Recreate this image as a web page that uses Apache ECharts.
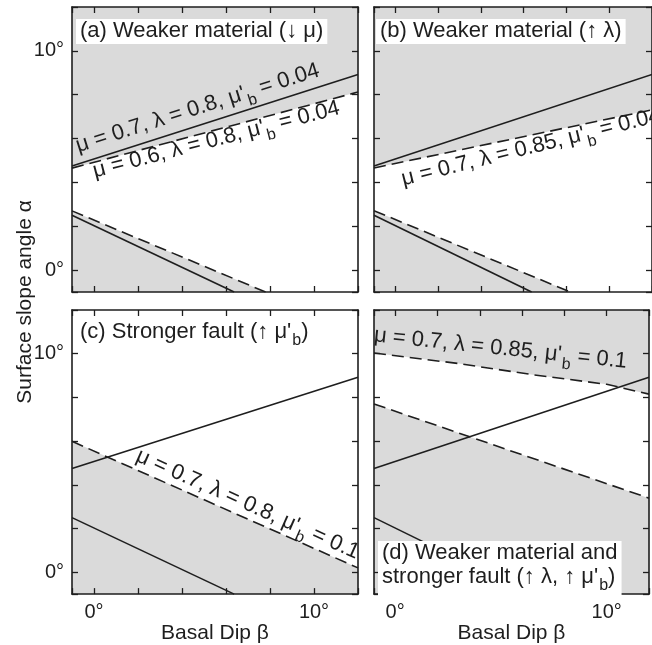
<!DOCTYPE html>
<html>
<head>
<meta charset="utf-8">
<script src="https://cdn.jsdelivr.net/npm/echarts@6/dist/echarts.min.js"></script>
<style>
  html, body { margin: 0; padding: 0; background: #fff; }
  #chart { width: 652px; height: 645px; }
</style>
</head>
<body>
<div id="chart"></div>
<script>
const FONT = '"Liberation Sans", Arial, Helvetica, sans-serif';
const INK = '#1e1e1e';
const SHADE = '#dadada';

// Axis extents (degrees) and the ticks that carry a label
const betaRange = [-1, 12];
const alphaRange = [-1, 12];
const labelledTicks = [0, 10];

// Reference wedge: mu = 0.7, lambda = 0.8, mu'b = 0.04 (solid curves, every panel)
const refUpper = [[-1, 4.75], [12, 8.92]];
const refLower = [[-1, 2.5], [6.37, -1]];

// (a) weaker material, mu = 0.6
const aUpper = [[-1, 4.65], [12, 8.12]];
const aLower = [[-1, 2.7], [7.8, -1]];
// (b) weaker material, lambda = 0.85
const bUpper = [[-1, 4.66], [12, 7.31]];
const bLower = [[-1, 2.71], [8.18, -1]];
// (c) stronger fault, mu'b = 0.1 (upper bound lies above the plotted range)
const cLower = [[-1, 5.99], [12, 0.2]];
// (d) lambda = 0.85 and mu'b = 0.1
const dUpper = [[-1, 10.03], [3, 9.55], [6.5, 9.04], [10, 8.6], [12, 8.15]];
const dLower = [[-1, 7.7], [12, 3.39]];

// Panel captions and curve annotations: [plain, subscript, plain] pieces
const captions = [
  [['(a) Weaker material (↓ μ)']],
  [['(b) Weaker material (↑ λ)']],
  [['(c) Stronger fault (↑ μ\'', 'b', ')']],
  [['(d) Weaker material and'], ['stronger fault (↑ λ, ↑ μ\'', 'b', ')']]
];
const curveNotes = [
  { panel: 0, text: ['μ = 0.7, λ = 0.8, μ\'', 'b', ' = 0.04'] },
  { panel: 0, text: ['μ = 0.6, λ = 0.8, μ\'', 'b', ' = 0.04'] },
  { panel: 1, text: ['μ = 0.7, λ = 0.85, μ\'', 'b', ' = 0.04'] },
  { panel: 2, text: ['μ = 0.7, λ = 0.8, μ\'', 'b', ' = 0.1'] },
  { panel: 3, text: ['μ = 0.7, λ = 0.85, μ\'', 'b', ' = 0.1'] }
];
// where each annotation starts (data units) and its slant (degrees)
const notePlacement = [
  { at: [-0.78, 5.6], angle: 17.5 },
  { at: [-0.02, 4.45], angle: 14.5 },
  { at: [0.31, 4.08], angle: 14 },
  { at: [1.95, 5.32], angle: -24 },
  { at: [-1.0, 10.8], angle: -6 }
];

const panels = [
  { left: 72,  top: 7,   height: 285, upper: aUpper, lower: aLower, xLab: false, yLab: true },
  { left: 374, top: 7,   height: 285, upper: bUpper, lower: bLower, xLab: false, yLab: false },
  { left: 72,  top: 310, height: 286, upper: null,   lower: cLower, xLab: true,  yLab: true },
  { left: 374, top: 310, height: 286, upper: dUpper, lower: dLower, xLab: true,  yLab: false }
];
const captionPlace = [
  { left: 76, top: 19 },
  { left: 376, top: 19 },
  { left: 76, top: 320 },
  { left: 378, top: 541 }
];

const rich = {
  t: { fontSize: 22, lineHeight: 24, verticalAlign: 'top', fontFamily: FONT, color: INK },
  s: { fontSize: 16, lineHeight: 16, verticalAlign: 'top', padding: [12, 0, 0, 1], fontFamily: FONT, color: INK }
};
function richLine(pieces) {
  return pieces.map((p, k) => (k % 2 === 1 ? '{s|' + p + '}' : '{t|' + p + '}')).join('');
}

const grid = panels.map(p => ({ left: p.left, top: p.top, width: 286, height: p.height, show: false }));

function axisCommon(extent, gridIndex, position, withLabels) {
  return {
    type: 'value', gridIndex, position, min: extent[0], max: extent[1],
    minInterval: 2, maxInterval: 2, z: 5,
    axisLine: { show: true, onZero: false, lineStyle: { color: INK, width: 1.6 } },
    axisTick: { show: true, inside: true, length: 6, lineStyle: { color: INK, width: 1.3 } },
    axisLabel: {
      show: withLabels, fontSize: 20, fontFamily: FONT, color: INK, margin: 8,
      formatter: v => (labelledTicks.includes(v) ? v + '°' : '')
    },
    splitLine: { show: false }
  };
}

const xAxis = [], yAxis = [];
panels.forEach((p, i) => {
  const xa = axisCommon(betaRange, i, 'bottom', p.xLab);
  if (p.xLab) {
    xa.name = 'Basal Dip β';
    xa.nameLocation = 'middle';
    xa.nameGap = 21;
    xa.nameTextStyle = { fontSize: 21, fontFamily: FONT, color: INK };
  }
  xAxis.push(xa);
  yAxis.push(axisCommon(alphaRange, i, 'left', p.yLab));
});
panels.forEach((p, i) => {
  xAxis.push(axisCommon(betaRange, i, 'top', false));
  yAxis.push(axisCommon(alphaRange, i, 'right', false));
});

const series = [];
panels.forEach((p, i) => {
  if (p.lower) series.push({
    type: 'line', xAxisIndex: i, yAxisIndex: i, data: p.lower, symbol: 'none', z: 2, silent: true,
    lineStyle: { color: INK, width: 1.6, type: [12, 6] },
    areaStyle: { color: SHADE, opacity: 1, origin: 'start' }
  });
  if (p.upper) series.push({
    type: 'line', xAxisIndex: i, yAxisIndex: i, data: p.upper, symbol: 'none', z: 2, silent: true,
    lineStyle: { color: INK, width: 1.6, type: [12, 6] },
    areaStyle: { color: SHADE, opacity: 1, origin: 'end' }
  });
  [refUpper, refLower].forEach(d => series.push({
    type: 'line', xAxisIndex: i, yAxisIndex: i, data: d, symbol: 'none', z: 3, silent: true,
    lineStyle: { color: INK, width: 1.6 }
  }));
});
curveNotes.forEach((n, k) => {
  const pl = notePlacement[k];
  series.push({
    type: 'scatter', xAxisIndex: n.panel, yAxisIndex: n.panel, data: [pl.at],
    symbolSize: 0, z: 4, silent: true,
    itemStyle: { color: INK },
    label: {
      show: true, position: 'inside', align: 'left', verticalAlign: 'middle',
      color: INK, textBorderWidth: 0, opacity: 1,
      rotate: pl.angle, formatter: richLine(n.text), rich
    }
  });
});

const title = captions.map((lines, i) => ({
  text: lines.map(richLine).join('\n'),
  left: captionPlace[i].left, top: captionPlace[i].top,
  backgroundColor: '#fff', padding: [1, 4, 2, 4], z: 10,
  textStyle: { fontSize: 22, fontWeight: 'normal', fontFamily: FONT, color: INK, rich }
}));

const chart = echarts.init(document.getElementById('chart'), null, { renderer: 'canvas' });
chart.setOption({
  animation: false,
  backgroundColor: '#fff',
  title,
  grid, xAxis, yAxis, series,
  graphic: [{
    type: 'text', x: 25, y: 302, rotation: Math.PI / 2, z: 10,
    style: {
      text: 'Surface slope angle α', font: '21px ' + FONT, fill: INK,
      textAlign: 'center', textVerticalAlign: 'middle', align: 'center', verticalAlign: 'middle'
    }
  }]
});
</script>
</body>
</html>
